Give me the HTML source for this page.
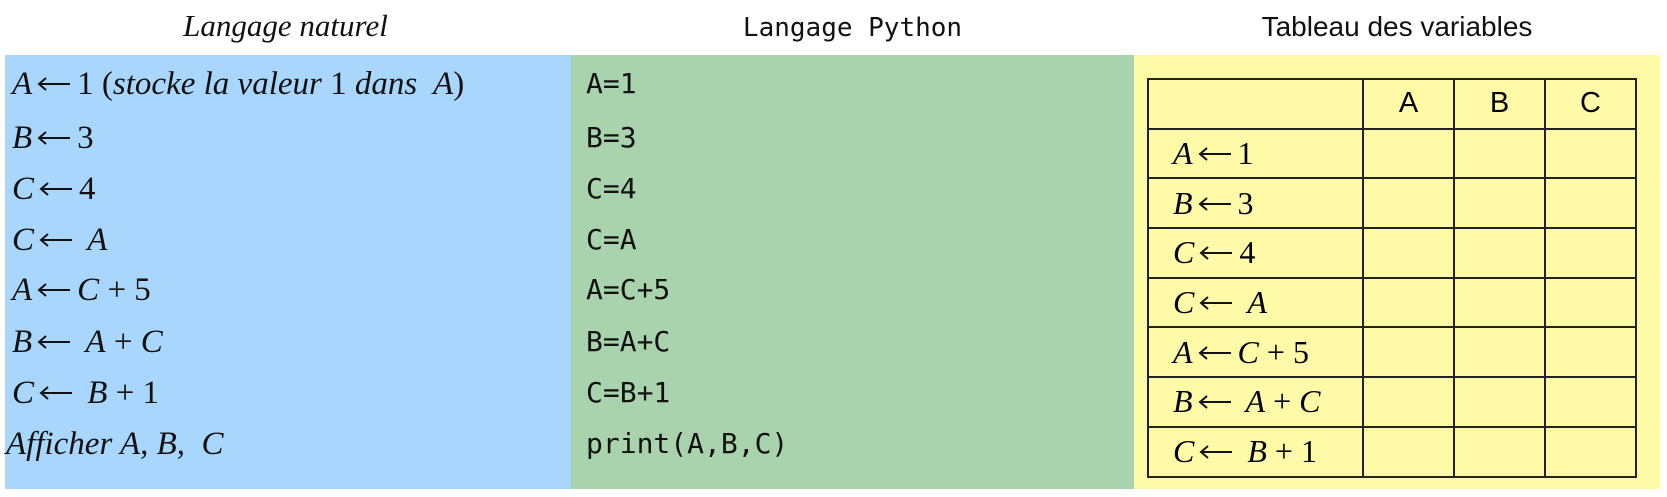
<!DOCTYPE html>
<html><head><meta charset="utf-8"><style>
body{margin:0;width:1667px;height:497px;background:#fff;position:relative;overflow:hidden}
.a{position:absolute}
.t{font-family:"Liberation Serif",serif;font-size:33px;color:#111}
.i{font-style:italic}
.m{font-family:"DejaVu Sans Mono","Liberation Mono",monospace;font-size:28px;color:#111}
.s{font-family:"Liberation Sans",sans-serif;font-size:28px;color:#111}
.row{position:absolute;left:12px;height:50px;line-height:50px;white-space:pre}
.py{position:absolute;left:586px;height:50px;line-height:50px;white-space:pre}
.ar{display:inline-block;width:34px;height:16px;margin:0 6px 0 5px;vertical-align:2px}
table{position:absolute;left:1147px;top:78px;border-collapse:collapse}
td{border:2px solid #222;height:47.7px;padding:0;font-family:"Liberation Serif",serif;font-size:32px;line-height:45px;white-space:pre}
td.h{text-align:center;font-family:"Liberation Sans",sans-serif;font-size:29px}
</style></head><body>
<svg width="0" height="0" style="position:absolute"><defs><symbol id="arr" viewBox="0 0 34 16"><path d="M2 8H33M9 2L2 8L9 14" stroke="#111" stroke-width="2" fill="none"/></symbol></defs></svg>
<div class="a t i" style="left:0;width:571px;top:8px;text-align:center;font-size:31px">Langage naturel</div>
<div class="a m" style="left:571px;width:563px;top:13px;text-align:center;font-size:26px">Langage Python</div>
<div class="a s" style="left:1134px;width:526px;top:11px;text-align:center">Tableau des variables</div>
<div class="a" style="left:5px;top:55px;width:566px;height:434px;background:#a9d6fc"></div>
<div class="a" style="left:571px;top:55px;width:563px;height:434px;background:#a8d3ad"></div>
<div class="a" style="left:1134px;top:55px;width:526px;height:434px;background:#fffaa8"></div>
<div class="t">
<div class="row" style="top:59px"><i>A</i><svg class="ar"><use href="#arr"/></svg>1 (<i>stocke la valeur</i> 1 <i>dans  A</i>)</div>
<div class="row" style="top:113px"><i>B</i><svg class="ar"><use href="#arr"/></svg>3</div>
<div class="row" style="top:164px"><i>C</i><svg class="ar"><use href="#arr"/></svg>4</div>
<div class="row" style="top:215px"><i>C</i><svg class="ar"><use href="#arr"/></svg> <i>A</i></div>
<div class="row" style="top:265px"><i>A</i><svg class="ar"><use href="#arr"/></svg><i>C</i> + 5</div>
<div class="row" style="top:317px"><i>B</i><svg class="ar"><use href="#arr"/></svg> <i>A</i> + <i>C</i></div>
<div class="row" style="top:368px"><i>C</i><svg class="ar"><use href="#arr"/></svg> <i>B</i> + 1</div>
<div class="row i" style="top:419px;left:6px">Afficher A, B,  C</div>
</div>
<div class="m">
<div class="py" style="top:59px">A=1</div>
<div class="py" style="top:113px">B=3</div>
<div class="py" style="top:164px">C=4</div>
<div class="py" style="top:215px">C=A</div>
<div class="py" style="top:265px">A=C+5</div>
<div class="py" style="top:317px">B=A+C</div>
<div class="py" style="top:368px">C=B+1</div>
<div class="py" style="top:419px">print(A,B,C)</div>
</div>
<table>
<tr><td style="width:213px"></td><td class="h" style="width:89px">A</td><td class="h" style="width:89px">B</td><td class="h" style="width:89px">C</td></tr>
<tr><td>   <i>A</i><svg class="ar"><use href="#arr"/></svg>1</td><td></td><td></td><td></td></tr>
<tr><td>   <i>B</i><svg class="ar"><use href="#arr"/></svg>3</td><td></td><td></td><td></td></tr>
<tr><td>   <i>C</i><svg class="ar"><use href="#arr"/></svg>4</td><td></td><td></td><td></td></tr>
<tr><td>   <i>C</i><svg class="ar"><use href="#arr"/></svg> <i>A</i></td><td></td><td></td><td></td></tr>
<tr><td>   <i>A</i><svg class="ar"><use href="#arr"/></svg><i>C</i> + 5</td><td></td><td></td><td></td></tr>
<tr><td>   <i>B</i><svg class="ar"><use href="#arr"/></svg> <i>A</i> + <i>C</i></td><td></td><td></td><td></td></tr>
<tr><td>   <i>C</i><svg class="ar"><use href="#arr"/></svg> <i>B</i> + 1</td><td></td><td></td><td></td></tr>
</table>
</body></html>
